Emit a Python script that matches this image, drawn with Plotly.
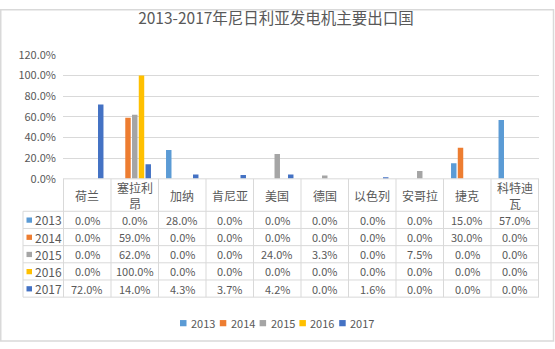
import plotly.graph_objects as go

W, H = 555, 349

categories = ["荷兰", "塞拉利<br>昂", "加纳", "肯尼亚", "美国", "德国", "以色列", "安哥拉", "捷克", "科特迪<br>瓦"]
years = ["2013", "2014", "2015", "2016", "2017"]
v2013 = [0.0, 0.0, 28.0, 0.0, 0.0, 0.0, 0.0, 0.0, 15.0, 57.0]
v2014 = [0.0, 59.0, 0.0, 0.0, 0.0, 0.0, 0.0, 0.0, 30.0, 0.0]
v2015 = [0.0, 62.0, 0.0, 0.0, 24.0, 3.3, 0.0, 7.5, 0.0, 0.0]
v2016 = [0.0, 100.0, 0.0, 0.0, 0.0, 0.0, 0.0, 0.0, 0.0, 0.0]
v2017 = [72.0, 14.0, 4.3, 3.7, 4.2, 0.0, 1.6, 0.0, 0.0, 0.0]
series = [v2013, v2014, v2015, v2016, v2017]
colors = ["#5B9BD5", "#ED7D31", "#A5A5A5", "#FFC000", "#4472C4"]
title = "2013-2017年尼日利亚发电机主要出口国"

FONT = "Noto Sans CJK SC, Noto Sans, sans-serif"
TXT = "#595959"
GRID = "#D9D9D9"


def px(x):
    return x / W


def py(y):
    return 1 - y / H


# layout pixel geometry
PL, PR, PT, PB = 63, 539, 48, 178
TL = 23            # table left edge
ROW_TOP = 212      # first data row top
ROW_H = 18

fig = go.Figure()
for yr, vals, col in zip(years, series, colors):
    fig.add_trace(go.Bar(
        x=categories, y=[v / 100 for v in vals], name=yr,
        marker=dict(color=col, line=dict(width=0)),
        showlegend=False,
    ))

shapes = []
annotations = []

# outer border
shapes.append(dict(type="rect", xref="paper", yref="paper",
                   x0=px(0.75), x1=px(553.5), y0=py(348), y1=py(0.75),
                   line=dict(color=GRID, width=1.5), layer="below"))

n_rows = len(years)
y_bottom = ROW_TOP + n_rows * ROW_H
# horizontal table lines
for i in range(n_rows + 1):
    yy = ROW_TOP + i * ROW_H
    shapes.append(dict(type="line", xref="paper", yref="paper",
                       x0=px(TL), x1=px(PR), y0=py(yy), y1=py(yy),
                       line=dict(color=GRID, width=1)))
# top line of header (axis)
shapes.append(dict(type="line", xref="paper", yref="paper",
                   x0=px(PL), x1=px(PR), y0=py(PB), y1=py(PB),
                   line=dict(color=GRID, width=1)))
# left edge of row header column
shapes.append(dict(type="line", xref="paper", yref="paper",
                   x0=px(TL), x1=px(TL), y0=py(ROW_TOP), y1=py(y_bottom),
                   line=dict(color=GRID, width=1)))
# category boundaries
for i in range(len(categories) + 1):
    shapes.append(dict(type="line", xref="x", yref="paper",
                       x0=i - 0.5, x1=i - 0.5, y0=py(PB), y1=py(y_bottom),
                       line=dict(color=GRID, width=1)))

# header row
for c in categories:
    annotations.append(dict(x=c, y=py((PB + ROW_TOP) / 2 + 0.5), xref="x", yref="paper",
                            text=c, showarrow=False, xanchor="center", yanchor="middle",
                            font=dict(family=FONT, size=12, color=TXT)))

# data rows
for r, (yr, vals, col) in enumerate(zip(years, series, colors)):
    yc = ROW_TOP + r * ROW_H + ROW_H / 2
    shapes.append(dict(type="rect", xref="paper", yref="paper",
                       x0=px(26.5), x1=px(32), y0=py(yc + 3), y1=py(yc - 2.5),
                       fillcolor=col, line=dict(width=0)))
    annotations.append(dict(x=px(33), y=py(yc), xref="paper", yref="paper",
                            text=yr, showarrow=False, xanchor="left", yanchor="middle",
                            font=dict(family=FONT, size=12, color=TXT)))
    for c, v in zip(categories, vals):
        annotations.append(dict(x=c, y=py(yc), xref="x", yref="paper",
                                text=f"{v:.1f}%", showarrow=False,
                                xanchor="center", yanchor="middle",
                                font=dict(family=FONT, size=11, color=TXT)))

# legend (manual)
LEG_Y = 329
LEG_X0 = 180
LEG_STEP = 39.8
for i, (yr, col) in enumerate(zip(years, colors)):
    x0 = LEG_X0 + i * LEG_STEP
    shapes.append(dict(type="rect", xref="paper", yref="paper",
                       x0=px(x0), x1=px(x0 + 6.5), y0=py(LEG_Y + 3.5), y1=py(LEG_Y - 3),
                       fillcolor=col, line=dict(width=0)))
    annotations.append(dict(x=px(x0 + 9), y=py(LEG_Y), xref="paper", yref="paper",
                            text=yr, showarrow=False, xanchor="left", yanchor="middle",
                            font=dict(family=FONT, size=11, color=TXT)))

fig.update_layout(
    width=W, height=H,
    margin=dict(l=0, r=0, t=0, b=0),
    paper_bgcolor="white", plot_bgcolor="white",
    title=dict(text=title, x=px(276), xanchor="center", y=py(19), yanchor="middle",
               font=dict(family=FONT, size=15.5, color=TXT)),
    barmode="group", bargap=0.29, bargroupgap=0.19,
    xaxis=dict(domain=[px(PL), px(PR)], showticklabels=False, ticks="",
               showgrid=False, showline=False, zeroline=False),
    yaxis=dict(domain=[py(PB), py(PT)], range=[0, 1.2], dtick=0.2, tickformat=".1%",
               showgrid=True, gridcolor=GRID, gridwidth=1, zeroline=False,
               showline=False, ticks="", ticklabelstandoff=6,
               tickfont=dict(family=FONT, size=11, color=TXT)),
    shapes=shapes, annotations=annotations,
    showlegend=False,
)

fig.write_html("out.html")
